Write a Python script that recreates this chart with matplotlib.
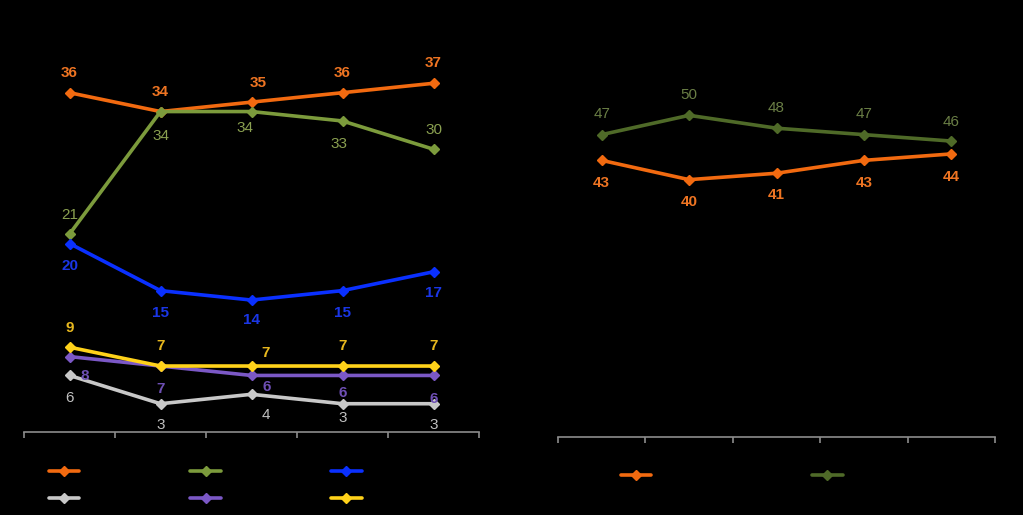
import matplotlib
matplotlib.use("Agg")
import matplotlib.pyplot as plt

plt.rcParams['font.family'] = ['Liberation Sans', 'DejaVu Sans']

# ---- data ----
periods = ["P1", "P2", "P3", "P4", "P5"]
left_names = ["Series A", "Series B", "Series C", "Series D", "Series E", "Series F"]
s_orange = [36, 34, 35, 36, 37]
s_green = [21, 34, 34, 33, 30]
s_blue = [20, 15, 14, 15, 17]
s_gray = [6, 3, 4, 3, 3]
s_purple = [8, 7, 6, 6, 6]
s_yellow = [9, 7, 7, 7, 7]

right_names = ["Series G", "Series H"]
r_orange = [43, 40, 41, 43, 44]
r_green = [47, 50, 48, 47, 46]

# ---- styles (offsets in pixels relative to point; +y is up) ----
left_series = [
    (s_orange, "#F26A10", "#EE7422", "bold",
     [(0, 20), (0, 20), (7, 19), (0, 20), (0, 20)]),
    (s_green, "#7C9B3C", "#8AA050", "normal",
     [(0, 19), (0, -24), (-7, -16), (-4, -23), (0, 19)]),
    (s_blue, "#0A30FF", "#1A36E6", "bold",
     [(0, -22), (0, -22), (0, -20), (0, -22), (0, -21)]),
    (s_gray, "#C8C8C8", "#C0C0C0", "normal",
     [(0, -23), (0, -21), (14, -21), (0, -14), (0, -21)]),
    (s_purple, "#7B58C6", "#6E4FB4", "bold",
     [(15, -19), (0, -23), (15, -12), (0, -18), (0, -24)]),
    (s_yellow, "#FFD21A", "#E8B81E", "bold",
     [(0, 19), (0, 20), (14, 13), (0, 20), (0, 20)]),
]
right_series = [
    (r_orange, "#F26A10", "#EE7422", "bold",
     [(0, -23), (0, -22), (0, -22), (0, -23), (0, -23)]),
    (r_green, "#4F6A28", "#6A7E45", "normal",
     [(0, 21), (0, 20), (0, 20), (0, 21), (0, 19)]),
]

fig = plt.figure(figsize=(10.23, 5.15), dpi=100, facecolor="black")

def setup(ax, ymax):
    ax.set_facecolor("black")
    ax.set_xlim(-0.5, len(periods) - 0.5)
    ax.set_ylim(0, ymax)
    for s in ("top", "right", "left"):
        ax.spines[s].set_visible(False)
    ax.spines["bottom"].set_color("#8C8C8C")
    ax.spines["bottom"].set_linewidth(1.2)
    ax.set_xticks([i - 0.5 for i in range(len(periods) + 1)])
    ax.set_xticklabels([])
    ax.tick_params(axis="x", colors="#8C8C8C", length=4, width=1.2, direction="out")
    ax.set_yticks([])

def draw(ax, series, names):
    handles = []
    x = list(range(len(periods)))
    for (vals, lc, tc, wt, offs), name in zip(series, names):
        ln, = ax.plot(x, vals, color=lc, lw=2.6, marker="D", ms=5,
                      markeredgecolor=lc, label=name, solid_capstyle="round",
                      clip_on=False)
        handles.append(ln)
        for xi, v, (dx, dy) in zip(x, vals, offs):
            ax.annotate(str(v), (xi, v), xytext=(dx, dy), textcoords="offset pixels",
                        ha="center", va="center", color=tc, fontsize=11,
                        fontweight=wt)
    return handles

axL = fig.add_axes([24 / 1023, 83 / 515, 455 / 1023, 377 / 515])
setup(axL, 40)
hL = draw(axL, left_series, left_names)

axR = fig.add_axes([558 / 1023, 78 / 515, 437 / 1023, 386 / 515])
setup(axR, 60)
hR = draw(axR, right_series, right_names)

# legend rows: [orange, green, blue] / [gray, purple, yellow]; matplotlib fills by column
orderL = [0, 3, 1, 4, 2, 5]
legL = fig.legend(handles=[hL[i] for i in orderL], labels=[left_names[i] for i in orderL],
                  ncol=3, loc="upper left",
                  bbox_to_anchor=(35 / 1023, 1 - 452 / 515), frameon=False,
                  handlelength=2.0, columnspacing=2.65, labelspacing=0.8,
                  fontsize=11, labelcolor="black")
legR = fig.legend(handles=hR, labels=right_names, ncol=2, loc="upper left",
                  bbox_to_anchor=(607 / 1023, 1 - 456 / 515), frameon=False,
                  handlelength=2.0, columnspacing=5.85, fontsize=11,
                  labelcolor="black")

fig.savefig("out.png", dpi=100, facecolor="black")
